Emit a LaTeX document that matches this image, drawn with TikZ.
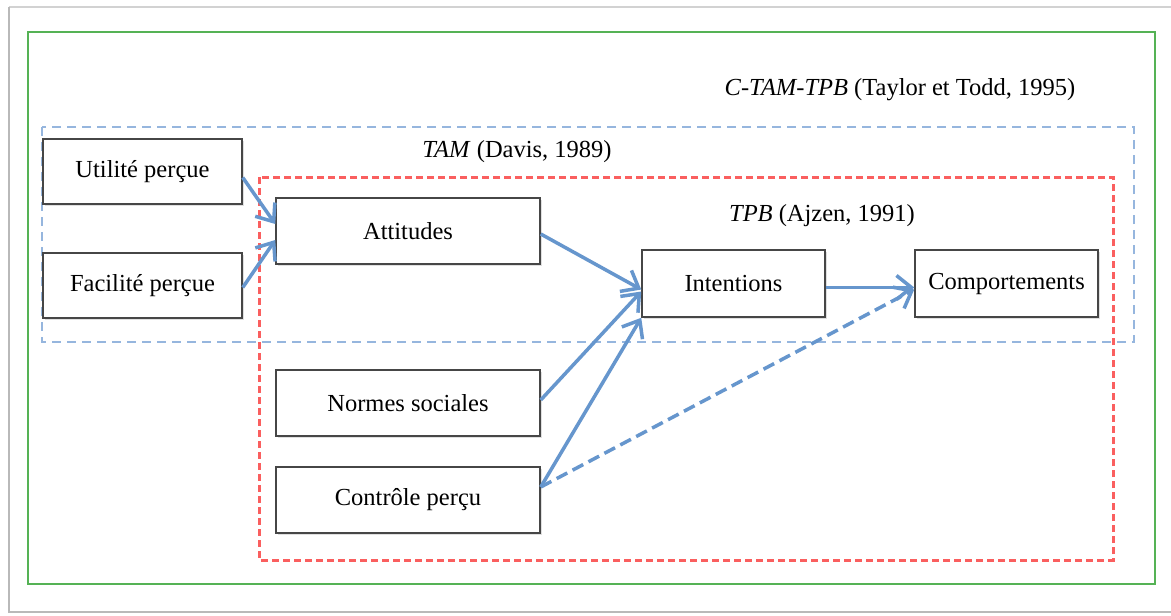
\documentclass[tikz,border=0pt]{standalone}
\usepackage{fontspec}
\setmainfont{Liberation Serif}
\usetikzlibrary{arrows.meta,shadows}
\definecolor{arrowblue}{RGB}{102,150,205}
\definecolor{frameblue}{RGB}{150,182,222}
\definecolor{framered}{RGB}{250,95,95}
\definecolor{framegreen}{RGB}{85,178,85}
\definecolor{boxline}{RGB}{70,70,70}
\tikzset{
  box/.style={draw=boxline, line width=1.5pt, fill=white, minimum width=264pt, minimum height=66pt, inner sep=0pt,
    drop shadow={opacity=0.25, shadow xshift=2pt, shadow yshift=-2pt}},
  arr/.style={draw=arrowblue, line width=3.5pt, -{Straight Barb[length=15pt,width=24pt,line width=3.5pt]}},
  lbl/.style={inner sep=0pt},
}
\begin{document}
\begin{tikzpicture}[x=1pt,y=-1pt,font=\fontsize{24.5}{29}\selectfont]
\useasboundingbox (0,0) rectangle (1171,616);
\fill[white] (0,0) rectangle (1171,616);
% page frame
\draw[gray!35, line width=1.5pt] (9,7) -- (1175,7);
\draw[gray!55, line width=1.5pt] (9,7) -- (9,612) -- (1175,612);
% green frame
\draw[framegreen, line width=2pt] (28,32) rectangle (1155,584);
% blue dashed frame
\draw[frameblue, line width=2.5pt, dash pattern=on 9pt off 6pt] (42,127) rectangle (1134,342);
% red dashed frame
\draw[framered, line width=3pt, dash pattern=on 7pt off 4pt] (259,177) rectangle (1113,560);
% labels
\node[lbl] (ctam) at (900,90) {\textit{C-TAM-TPB} (Taylor et Todd, 1995)};
\node[lbl] (tam) at (517,152) {\textit{TAM} (Davis, 1989)};
\node[lbl] (tpb) at (822,216) {\textit{TPB} (Ajzen, 1991)};
% boxes
\node[box, minimum width=199pt, minimum height=65pt] (util) at (142.5,171.5) {Utilité perçue};
\node[box, minimum width=199pt, minimum height=65pt] (faci) at (142.5,285.5) {Facilité perçue};
\node[box] (att) at (408,231) {Attitudes};
\node[box] (norm) at (408,403) {Normes sociales};
\node[box] (ctrl) at (408,500) {Contrôle perçu};
\node[box, minimum width=183pt, minimum height=67pt] (int) at (733.5,283.5) {Intentions};
\node[box, minimum width=183pt, minimum height=67pt] (comp) at (1006.5,283.5) {Comportements};
% arrows
\draw[arr] ([yshift=-6pt]util.east) -- ([yshift=7pt]att.west);
\draw[arr] ([yshift=-2pt]faci.east) -- ([yshift=-9pt]att.west);
\draw[arr] ([yshift=-3pt]att.east) -- ([yshift=-6pt]int.west);
\draw[arr] ([yshift=3pt]norm.east) -- ([yshift=-8pt]int.west);
\draw[arr] ([yshift=13pt]ctrl.east) -- (int.south west);
\draw[arr] ([yshift=-4pt]int.east) -- ([yshift=-4pt]comp.west);
\draw[arr, dash pattern=on 12pt off 6pt] ([yshift=13pt]ctrl.east) -- ([yshift=-6pt]comp.west);
\end{tikzpicture}
\end{document}
